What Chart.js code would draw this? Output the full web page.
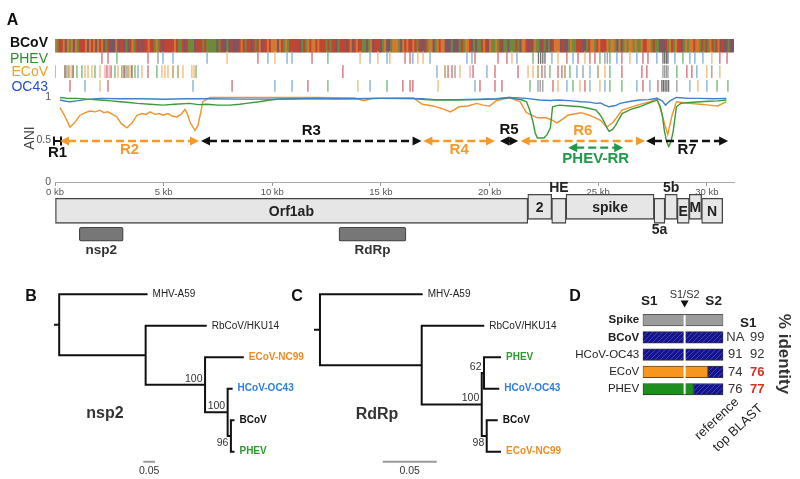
<!DOCTYPE html>
<html>
<head>
<meta charset="utf-8">
<script src="https://cdn.jsdelivr.net/npm/chart.js@4.4.1/dist/chart.umd.min.js"></script>
<style>
html,body{margin:0;padding:0;background:#fff;}
#wrap{position:relative;width:800px;height:479px;overflow:hidden;background:#fff;}
canvas{position:absolute;left:0;top:0;}
</style>
</head>
<body>
<div id="wrap">
<canvas id="cA" width="800" height="479"></canvas>
<canvas id="cB" width="800" height="479"></canvas>
<canvas id="cC" width="800" height="479"></canvas>
<canvas id="cD" width="800" height="479"></canvas>
</div>
<script>
// ===================== DATA =====================
// Panel A : genome axis (kb) and ANI axis
const genomeLengthKb = 31.25;
const kbTicks = [0, 5, 10, 15, 20, 25, 30];
const aniTicks = [0, 0.5, 1];

// ANI of each virus vs BCoV along the genome  [kb, ANI]
const aniOC43 = [[0.23,0.97],[0.5,0.955],[0.69,0.95],[1.0,0.96],[1.4,0.975],[2.07,0.99],[3.0,0.985],[4.0,0.985],[5.0,0.98],[6.0,0.985],[7.0,0.985],[8.5,0.98],[10,0.98],[11.5,0.985],[13,0.985],[15,0.99],[16.9,0.985],[17.5,0.975],[18.5,0.975],[19.5,0.98],[20.3,0.985],[20.9,1.0],[21.7,0.99],[22.3,0.97],[22.8,0.965],[23.2,0.97],[23.8,0.96],[24.2,0.95],[24.6,0.945],[24.9,0.93],[25.1,0.935],[25.3,0.91],[25.5,0.89],[25.8,0.905],[26.0,0.93],[26.5,0.955],[26.9,0.97],[27.3,0.975],[27.7,0.99],[27.95,0.96],[28.1,0.91],[28.3,0.96],[28.6,1.0],[29.2,0.99],[29.7,0.99],[30.3,0.985],[30.9,0.99]];
const aniPHEV = [[0.23,1.0],[0.6,0.99],[1.0,0.99],[1.5,0.98],[2.07,0.97],[2.6,0.96],[3.0,0.95],[3.4,0.94],[3.8,0.93],[4.37,0.92],[4.97,0.91],[5.5,0.92],[6.2,0.93],[6.6,0.915],[7.0,0.92],[7.5,0.91],[8.05,0.91],[8.5,0.92],[8.8,0.93],[9.4,0.95],[9.9,0.97],[10.3,0.98],[11,0.985],[12,0.99],[13,0.985],[14,0.985],[15,0.99],[16.5,0.99],[17.0,0.975],[17.5,0.97],[18.5,0.97],[19.5,0.975],[20.3,0.98],[20.9,1.0],[21.5,0.97],[21.7,0.95],[21.85,0.85],[22.0,0.71],[22.1,0.58],[22.2,0.52],[22.5,0.52],[22.65,0.56],[22.8,0.64],[22.9,0.89],[23.2,0.91],[23.7,0.9],[24.2,0.89],[24.6,0.87],[24.9,0.85],[25.1,0.79],[25.3,0.7],[25.4,0.64],[25.5,0.6],[25.65,0.62],[25.8,0.67],[26.1,0.81],[26.5,0.86],[26.9,0.89],[27.3,0.93],[27.7,0.97],[27.85,0.9],[27.95,0.79],[28.05,0.6],[28.15,0.48],[28.25,0.42],[28.35,0.48],[28.45,0.6],[28.6,0.89],[28.8,0.93],[29.2,0.94],[29.7,0.95],[30.1,0.955],[30.5,0.96],[30.9,0.97]];
const aniECoV = [[0.23,0.88],[0.45,0.78],[0.69,0.65],[0.9,0.7],[1.15,0.79],[1.4,0.82],[1.61,0.84],[1.85,0.83],[2.07,0.85],[2.25,0.82],[2.44,0.83],[2.65,0.8],[2.85,0.77],[3.05,0.69],[3.31,0.64],[3.55,0.7],[3.77,0.79],[4.0,0.81],[4.2,0.8],[4.37,0.83],[4.6,0.8],[4.8,0.81],[4.97,0.79],[5.2,0.81],[5.4,0.78],[5.61,0.77],[5.8,0.8],[5.98,0.86],[6.1,0.8],[6.21,0.71],[6.44,0.61],[6.58,0.67],[6.81,0.95],[7.13,1.0],[9,1.0],[12,1.0],[13.8,0.995],[14.2,0.96],[14.6,0.99],[16.5,0.995],[16.9,0.92],[17.4,0.9],[17.8,0.87],[18.2,0.83],[18.6,0.89],[19.0,0.9],[19.4,0.93],[19.7,0.91],[20.0,0.9],[20.3,0.96],[20.9,1.0],[21.4,0.95],[21.7,0.82],[22.2,0.76],[22.6,0.76],[22.9,0.73],[23.1,0.7],[23.4,0.75],[23.6,0.79],[24.2,0.82],[24.6,0.79],[25.1,0.73],[25.4,0.65],[25.7,0.71],[26.1,0.85],[26.8,0.91],[27.4,0.95],[27.7,0.99],[27.9,0.83],[28.2,0.56],[28.4,0.79],[28.6,0.95],[29.2,0.93],[29.7,0.92],[30.1,0.91],[30.5,0.9],[30.9,0.95]];

// BCoV reference sequence (drawn as coloured stripe)
const bcovSeq = 'GATTGCGAGCGATTTGCGTGCGTGCATCCCGCTTCACTGATCTCTTGTTAGATCTTTTTGTAATCTAAACTTTATAAAAACATCCACTCCCTGTATTCTATGCTTGTGGGCGTAGATTTTTCATAGTGGTGTTTATATTCATTTCTGCTGTTAACAGCTTTCAGCCAGGGACGTGTTGTATCCTAGGCAGTGGCCCACCCATAGGTCACAATGTCGAAGATCAACAAATACGGTCTCGAACTACACTGGGCTCCAGAATTTCCATGGATGTTTGAGGACGCAGAGGAGAAGTTGGATAACCCTAGTAGTTCAGAGGTGGATATAGTATGCTCCACC';

// variant sites vs BCoV  [kb, colour code]
const phevVariants = [[2.16,'r'],[2.44,'r'],[2.85,'g'],[4.28,'r'],[4.74,'k'],[4.97,'b'],[5.43,'b'],[7.0,'b'],[7.92,'o'],[9.34,'r'],[9.8,'b'],[10.12,'o'],[10.68,'b'],[10.91,'b'],[11.83,'r'],[12.56,'g'],[14.04,'o'],[14.5,'b'],[14.86,'o'],[15.28,'b'],[15.41,'o'],[16.11,'r'],[16.34,'r'],[16.47,'b'],[16.7,'o'],[16.94,'o'],[17.26,'b'],[18.96,'b'],[19.19,'b'],[19.33,'r'],[20.39,'r'],[20.8,'r'],[21.03,'o'],[21.26,'b'],[22.0,'g'],[22.25,'K'],[22.35,'K'],[22.45,'K'],[22.55,'K'],[22.87,'b'],[23.15,'o'],[23.56,'r'],[23.84,'b'],[24.07,'r'],[24.39,'o'],[24.62,'r'],[24.85,'r'],[25.08,'g'],[25.31,'k'],[25.42,'b'],[25.54,'g'],[25.86,'b'],[26.09,'r'],[26.46,'o'],[26.78,'b'],[27.06,'r'],[27.29,'r'],[27.7,'b'],[27.98,'K'],[28.06,'K'],[28.14,'K'],[28.21,'K'],[28.53,'b'],[28.9,'g'],[29.22,'b'],[29.45,'b'],[29.82,'b'],[30.23,'o'],[30.6,'r'],[30.93,'r']];
const ecovVariants = [[0.0,'g'],[0.46,'n'],[0.55,'k'],[0.64,'y'],[0.74,'o'],[0.83,'n'],[1.01,'g'],[1.24,'g'],[1.38,'o'],[1.52,'o'],[1.7,'o'],[1.84,'g'],[2.07,'o'],[2.3,'p'],[2.39,'r'],[2.49,'p'],[2.58,'r'],[2.76,'g'],[2.9,'o'],[3.08,'y'],[3.18,'n'],[3.27,'k'],[3.36,'y'],[3.45,'o'],[3.54,'n'],[3.68,'g'],[3.82,'b'],[4.0,'o'],[4.28,'r'],[4.69,'g'],[4.92,'o'],[5.06,'o'],[5.2,'o'],[5.43,'y'],[5.66,'y'],[5.89,'o'],[6.3,'o'],[6.4,'o'],[6.49,'g'],[13.25,'r'],[17.58,'b'],[17.95,'y'],[18.09,'r'],[18.27,'r'],[18.41,'k'],[18.64,'o'],[19.1,'p'],[19.24,'r'],[19.88,'b'],[20.25,'r'],[21.31,'r'],[21.77,'o'],[22.0,'o'],[22.23,'y'],[22.41,'r'],[22.55,'k'],[22.78,'g'],[23.15,'r'],[23.33,'r'],[23.47,'y'],[23.7,'g'],[24.02,'b'],[24.3,'k'],[24.62,'b'],[24.99,'y'],[25.31,'o'],[25.54,'g'],[26.09,'r'],[27.01,'r'],[27.24,'r'],[27.98,'k'],[28.06,'k'],[28.14,'k'],[28.21,'k'],[28.62,'g'],[29.08,'r'],[29.31,'r'],[29.54,'b'],[30.0,'o'],[30.23,'k'],[30.6,'o']];
const oc43Variants = [[0.69,'r'],[1.38,'b'],[2.07,'o'],[2.44,'r'],[6.35,'b'],[8.15,'r'],[10.12,'b'],[10.91,'b'],[11.64,'r'],[12.56,'g'],[13.94,'o'],[14.5,'b'],[15.28,'g'],[16.01,'r'],[16.34,'r'],[16.47,'r'],[17.63,'o'],[19.33,'b'],[19.56,'r'],[20.25,'r'],[20.57,'r'],[21.86,'g'],[22.23,'k'],[22.33,'k'],[22.45,'k'],[22.92,'r'],[23.15,'o'],[23.56,'b'],[23.84,'g'],[24.16,'o'],[24.39,'r'],[24.62,'b'],[25.08,'o'],[25.31,'b'],[25.54,'g'],[26.09,'g'],[26.78,'b'],[27.06,'r'],[27.38,'b'],[27.75,'r'],[27.93,'K'],[28.0,'K'],[28.08,'K'],[28.16,'K'],[28.24,'K'],[28.62,'k'],[29.22,'b'],[29.59,'o'],[30.0,'b'],[30.47,'g'],[30.97,'g']];

// recombination regions (kb)
const regionNames  = ['R1','R2','R3','R4','R5','R6','R7','PHEV-RR'];
const regionStart  = [0, 0.23, 6.72, 16.95, 20.48, 21.43, 27.2, 23.62];
const regionEnd    = [0.23, 6.63, 16.87, 20.25, 21.32, 27.15, 30.98, 26.15];
const regionSource = ['other','ECoV','other','ECoV','other','ECoV','other','PHEV'];

// genome map (kb)
const geneNames = ['Orf1ab','2','HE','spike','5a','5b','E','M','N'];
const geneStart = [0, 21.76, 22.86, 23.52, 27.57, 28.07, 28.64, 29.19, 29.76];
const geneEnd   = [21.76, 22.86, 23.52, 27.57, 28.07, 28.64, 29.19, 29.76, 30.73];
const domainNames = ['nsp2','RdRp'];
const domainStart = [1.12, 13.07];
const domainEnd   = [3.14, 16.15];

// Panel B : nsp2 tree (parent index, branch length, tip label, bootstrap)
const nsp2Parent  = [-1,0,0,2,2,4,4,6,6,8,8];
const nsp2Length  = [0.018,0.375,0.371,0.258,0.255,0.162,0.097,0.017,0.014,0.011,0.011];
const nsp2Taxa    = ['','MHV-A59','','RbCoV/HKU14','','ECoV-NC99','','HCoV-OC43','','BCoV','PHEV'];
const nsp2Support = [null,null,null,null,100,null,100,null,96,null,null];
// Panel C : RdRp tree
const rdrpParent  = [-1,0,0,2,2,4,5,5,4,8,8];
const rdrpLength  = [0.0046,0.0942,0.0942,0.057,0.0556,0.0021,0.0148,0.0132,0.0046,0.0093,0.0123];
const rdrpTaxa    = ['','MHV-A59','','RbCoV/HKU14','','','PHEV','HCoV-OC43','','BCoV','ECoV-NC99'];
const rdrpSupport = [null,null,null,null,100,62,null,null,98,null,null];
const scaleBarLength = 0.05;

// Panel D : spike identity
const spikeRows   = ['Spike','BCoV','HCoV-OC43','ECoV','PHEV'];
const ownLineagePct = [0, 0, 0, 81, 63];     // % of spike (from N-term) with own-lineage sequence
const s1s2Pct     = 52;                     // S1/S2 cleavage position, % of spike
const refIdentity = ['', 'NA', '91', '74', '76'];
const topBlastId  = ['', '99', '92', '76', '77'];
const topBlastHit = [false, false, false, true, true];

// ===================== STYLE / LAYOUT =====================
const FONT = '"Liberation Sans", Arial, Helvetica, sans-serif';
Chart.defaults.font.family = FONT;
const NUC = {A:'#6f8a3a', C:'#7d5663', G:'#d47a30', T:'#c04535'};
const VCOL = {r:'#d6686f', b:'#7eaed3', g:'#6fb66f', o:'#f2b674', k:'#9a9a9a', K:'#6e6e6e', y:'#a8974e', p:'#eaa9af', n:'#8a5c3c'};
const ORANGE = '#f39a27', GREEN = '#1f9a48', BLACK = '#111';
const SOURCE_COLOR = {other: BLACK, ECoV: ORANGE, PHEV: GREEN};
const Y_MAX_A = 1.692;
const ROW_Y = {BCoV:[1.538,1.692], PHEV:1.473, ECoV:1.306, OC43:1.138};
const ROW_LABELS = [
  {name:'BCoV', y:1.641, color:'#111', weight:'bold'},
  {name:'PHEV', y:1.459, color:'#2f8f2f', weight:'normal'},
  {name:'ECoV', y:1.305, color:'#f0a02c', weight:'normal'},
  {name:'OC43', y:1.128, color:'#2552cc', weight:'normal'}
];
const REGION_LANE_Y = {main:0.485, lower:0.406};
const REGION_LABEL_DY = [11.5, 9, -10, 9, -11, -10.5, 9, 11.5];
const GENE_LANE_Y = [-0.2935, -0.341];     // upper / lower lane centres
const GENE_LABEL_POS = ['in','in','above','in','below','above','in','in','in'];
const DOMAIN_Y = -0.618;

function txt(ctx, s, x, y, o) {
  o = o || {};
  ctx.save();
  ctx.font = (o.weight || 'normal') + ' ' + (o.size || 12) + 'px ' + FONT;
  ctx.fillStyle = o.color || '#222';
  ctx.textAlign = o.align || 'center';
  ctx.textBaseline = 'middle';
  if (o.rotate) { ctx.translate(x, y); ctx.rotate(o.rotate * Math.PI / 180); ctx.fillText(s, 0, 0); }
  else ctx.fillText(s, x, y);
  ctx.restore();
}

function drawRegionArrow(ctx, x1, x2, y, color) {
  const head = 9, hw = 4.6;
  ctx.save();
  ctx.strokeStyle = color; ctx.fillStyle = color; ctx.lineWidth = 2.3;
  if (x2 - x1 < 8) {
    ctx.lineWidth = 2;
    ctx.beginPath();
    ctx.moveTo(x1 - 1, y - 4.5); ctx.lineTo(x1 - 1, y + 4.5);
    ctx.moveTo(x2 + 1, y - 4.5); ctx.lineTo(x2 + 1, y + 4.5);
    ctx.moveTo(x1 - 1, y); ctx.lineTo(x2 + 1, y);
    ctx.stroke(); ctx.restore(); return;
  }
  if (x2 - x1 > 2 * head) {
    ctx.setLineDash([8, 4]);
    ctx.beginPath(); ctx.moveTo(x1 + head - 1, y); ctx.lineTo(x2 - head + 1, y); ctx.stroke();
    ctx.setLineDash([]);
  }
  ctx.beginPath(); ctx.moveTo(x1, y); ctx.lineTo(x1 + head, y - hw); ctx.lineTo(x1 + head, y + hw); ctx.closePath(); ctx.fill();
  ctx.beginPath(); ctx.moveTo(x2, y); ctx.lineTo(x2 - head, y - hw); ctx.lineTo(x2 - head, y + hw); ctx.closePath(); ctx.fill();
  ctx.restore();
}

const baseOpts = {responsive:false, animation:false, events:[], devicePixelRatio:1,
  plugins:{legend:{display:false}, tooltip:{enabled:false}}};

// ===================== PANEL A =====================
const seqLetters = bcovSeq.split('');
const panelAText = {
  id:'panelAText',
  afterDraw(chart) {
    const ctx = chart.ctx, x = chart.scales.x, y = chart.scales.y;
    txt(ctx, 'A', 12.5, 21, {size:16, weight:'bold', color:'#111'});
    ROW_LABELS.forEach(r => txt(ctx, r.name, 48, y.getPixelForValue(r.y), {size:14, weight:r.weight, color:r.color, align:'right'}));
    txt(ctx, 'ANI', 30, 138, {size:14, color:'#444', rotate:-90});
    regionNames.forEach((n, i) => {
      const x1 = x.getPixelForValue(regionStart[i]), x2 = x.getPixelForValue(regionEnd[i]);
      const yy = y.getPixelForValue(regionSource[i] === 'PHEV' ? REGION_LANE_Y.lower : REGION_LANE_Y.main);
      const col = SOURCE_COLOR[regionSource[i]];
      drawRegionArrow(ctx, x1, x2, yy, col);
      txt(ctx, n, (x1 + x2) / 2, yy + REGION_LABEL_DY[i], {size:15, weight:'bold', color:col});
    });
    geneNames.forEach((g, i) => {
      const cx = (x.getPixelForValue(geneStart[i]) + x.getPixelForValue(geneEnd[i])) / 2;
      const pos = GENE_LABEL_POS[i];
      let ty;
      if (pos === 'in') ty = y.getPixelForValue(GENE_LANE_Y[i % 2 === 0 ? 1 : 0]) + 1;
      else if (pos === 'above') ty = y.getPixelForValue(GENE_LANE_Y[0]) - 12.5 - 6;
      else ty = y.getPixelForValue(GENE_LANE_Y[1]) + 12.5 + 7;
      txt(ctx, g, cx, ty, {size:14, weight:'bold', color:'#222'});
    });
    domainNames.forEach((d, i) => {
      const cx = (x.getPixelForValue(domainStart[i]) + x.getPixelForValue(domainEnd[i])) / 2;
      txt(ctx, d, cx, y.getPixelForValue(DOMAIN_Y) + 16, {size:13.5, weight:'bold', color:'#333'});
    });
  }
};

function variantSet(list, rowY, r) {
  return {type:'scatter', xAxisID:'x', yAxisID:'y',
    data: list.map(v => ({x:v[0], y:rowY})),
    pointStyle:'line', pointRotation:90, pointRadius:r, pointHoverRadius:r,
    pointBorderWidth:1.3, pointBorderColor: list.map(v => VCOL[v[1]]),
    pointBackgroundColor: list.map(v => VCOL[v[1]])};
}
function aniSet(arr, color) {
  return {type:'line', xAxisID:'x', yAxisID:'y', data: arr.map(p => ({x:p[0], y:p[1]})),
    borderColor:color, borderWidth:1.4, pointRadius:0, tension:0, fill:false};
}
const linY = {type:'linear', position:'left', min:0, max:Y_MAX_A, offset:false, grid:{offset:false}};

new Chart(document.getElementById('cA'), {
  type:'line',
  data:{datasets:[
    aniSet(aniOC43, '#3f80c8'),
    aniSet(aniPHEV, '#3a9b3a'),
    aniSet(aniECoV, '#f1922b'),
    variantSet(phevVariants, ROW_Y.PHEV, 6.3),
    variantSet(ecovVariants, ROW_Y.ECoV, 6.3),
    variantSet(oc43Variants, ROW_Y.OC43, 5.9),
    {type:'bar', xAxisID:'xs', yAxisID:'ys', grouped:false, data: seqLetters.map(() => ROW_Y.BCoV.slice()),
      backgroundColor: seqLetters.map(c => NUC[c]), borderWidth:0, categoryPercentage:1, barPercentage:1},
    {type:'bar', indexAxis:'y', xAxisID:'x', yAxisID:'ys', grouped:false,
      data:[{x:[0, 31.2], y:(ROW_Y.BCoV[0] + ROW_Y.BCoV[1]) / 2}],
      barThickness:13, backgroundColor:'#7c6040', borderWidth:0},
    {type:'bar', indexAxis:'y', xAxisID:'x', yAxisID:'y', grouped:false,
      data: geneNames.map((g, i) => ({x:[geneStart[i], geneEnd[i]], y: GENE_LANE_Y[i % 2 === 0 ? 1 : 0]})),
      barThickness:25, backgroundColor:'#e6e6e6', borderColor:'#444', borderWidth:1.3, borderSkipped:false, clip:false},
    {type:'bar', indexAxis:'y', xAxisID:'x', yAxisID:'yd', grouped:false,
      data: domainNames.map((d, i) => ({x:[domainStart[i], domainEnd[i]], y: DOMAIN_Y})),
      barThickness:14, backgroundColor:'#777', borderColor:'#444', borderWidth:1.2, borderRadius:2, borderSkipped:false, clip:false}
  ]},
  options: Object.assign({}, baseOpts, {
    layout:{padding:{left:0, right:66, top:39, bottom:277}},
    scales:{
      x:{type:'linear', min:0, max:genomeLengthKb, offset:false,
        afterFit: s => { s.height = 20; },
        afterBuildTicks: s => { s.ticks = kbTicks.map(v => ({value:v})); },
        ticks:{callback: v => v + ' kb', font:{size:9.5}, color:'#555', padding:1, maxRotation:0, autoSkip:false},
        grid:{display:true, drawOnChartArea:false, drawTicks:true, tickLength:4, color:'#999', offset:false},
        border:{display:true, color:'#aaa', width:1}},
      xs:{type:'category', labels: seqLetters.map((c, i) => i + c), display:false, offset:true},
      y:Object.assign({}, linY, {
        afterFit: s => { s.width = 55; },
        afterBuildTicks: s => { s.ticks = aniTicks.map(v => ({value:v})); },
        ticks:{callback: v => String(v), font:{size:10.5}, color:'#555', padding:4},
        grid:{display:false, drawTicks:false, offset:false}, border:{display:false}}),
      ys:Object.assign({}, linY, {display:false}),
      yd:Object.assign({}, linY, {display:false})
    }
  }),
  plugins:[panelAText]
});

// ===================== PANELS B & C (trees) =====================
const TAXON_STYLE = {
  'MHV-A59':{color:'#222', weight:'normal'},
  'RbCoV/HKU14':{color:'#222', weight:'normal'},
  'ECoV-NC99':{color:'#f28a1f', weight:'bold'},
  'HCoV-OC43':{color:'#2c7fe0', weight:'bold'},
  'BCoV':{color:'#111', weight:'bold'},
  'PHEV':{color:'#2c9a2c', weight:'bold'}
};

function layoutTree(parent, blen) {
  const n = parent.length, kids = parent.map(() => []);
  parent.forEach((p, i) => { if (p >= 0) kids[p].push(i); });
  const x = [], y = [];
  for (let i = 0; i < n; i++) x[i] = (parent[i] >= 0 ? x[parent[i]] : 0) + blen[i];
  let leaf = 0;
  (function setY(i) {
    if (!kids[i].length) { y[i] = leaf++; return; }
    kids[i].forEach(setY);
    const ys = kids[i].map(c => y[c]);
    y[i] = (Math.min(...ys) + Math.max(...ys)) / 2;
  })(0);
  const pts = [{x:0, y:y[0]}, {x:x[0], y:y[0]}, {x:null, y:null}];
  for (let i = 1; i < n; i++) {
    const p = parent[i];
    pts.push({x:x[p], y:y[p]}, {x:x[p], y:y[i]}, {x:x[i], y:y[i]}, {x:null, y:null});
  }
  return {x, y, pts};
}

function treeChart(id, parent, blen, taxa, support, g) {
  const t = layoutTree(parent, blen);
  const plugin = {
    id:'tree' + g.letter,
    afterDraw(chart) {
      const ctx = chart.ctx, sx = chart.scales.x, sy = chart.scales.y;
      txt(ctx, g.letter, g.letterX, 297, {size:16, weight:'bold', color:'#111'});
      taxa.forEach((name, i) => {
        if (!name) return;
        const st = TAXON_STYLE[name];
        txt(ctx, name, sx.getPixelForValue(t.x[i]) + 6, sy.getPixelForValue(t.y[i]), {size:10, weight:st.weight, color:st.color, align:'left'});
      });
      support.forEach((s, i) => {
        if (s == null) return;
        const below = g.supportBelow.indexOf(i) >= 0;
        txt(ctx, String(s), sx.getPixelForValue(t.x[i]) - 2.5, sy.getPixelForValue(t.y[i]) + (below ? 7 : -6), {size:10.5, color:'#333', align:'right'});
      });
      txt(ctx, g.title, g.titleX, g.titleY, {size:16, weight:'bold', color:'#333'});
      txt(ctx, String(scaleBarLength), sx.getPixelForValue(g.barX + scaleBarLength / 2), sy.getPixelForValue(5.63), {size:10.5, color:'#333'});
    }
  };
  return new Chart(document.getElementById(id), {
    type:'scatter',
    data:{datasets:[
      {data:t.pts, showLine:true, borderColor:'#111', borderWidth:2, pointRadius:0, borderCapStyle:'square', borderJoinStyle:'miter', spanGaps:false, clip:false},
      {data:[{x:g.barX, y:5.32}, {x:g.barX + scaleBarLength, y:5.32}], showLine:true, borderColor:'#9a9a9a', borderWidth:2, pointRadius:0, clip:false}
    ]},
    options: Object.assign({}, baseOpts, {
      layout:{padding:g.pad},
      scales:{x:{type:'linear', display:false, min:0, max:g.xmax}, y:{type:'linear', display:false, min:0, max:5, reverse:true}}
    }),
    plugins:[plugin]
  });
}

treeChart('cB', nsp2Parent, nsp2Length, nsp2Taxa, nsp2Support,
  {letter:'B', letterX:31, title:'nsp2', titleX:105, titleY:413.5, barX:0.379, supportBelow:[8],
   pad:{left:55, right:455, top:294.3, bottom:27.3}, xmax:290/233});
treeChart('cC', rdrpParent, rdrpLength, rdrpTaxa, rdrpSupport,
  {letter:'C', letterX:297, title:'RdRp', titleX:377, titleY:415, barX:0.0627, supportBelow:[8],
   pad:{left:315, right:255, top:294.3, bottom:27.3}, xmax:230/1080});

// ===================== PANEL D =====================
function hatchPattern() {
  const c = document.createElement('canvas'); c.width = 5; c.height = 5;
  const g = c.getContext('2d');
  g.fillStyle = '#14148c'; g.fillRect(0, 0, 5, 5);
  g.strokeStyle = '#4040c0'; g.lineWidth = 1;
  g.beginPath(); g.moveTo(0, 5); g.lineTo(5, 0); g.moveTo(-1, 1); g.lineTo(1, -1); g.moveTo(4, 6); g.lineTo(6, 4); g.stroke();
  return g.createPattern(c, 'repeat');
}
const OWN_COLOR = {ECoV:'#f7961f', PHEV:'#1c8f1c'};
const panelDText = {
  id:'panelDText',
  afterDraw(chart) {
    const ctx = chart.ctx, x = chart.scales.x, y = chart.scales.y, ca = chart.chartArea;
    txt(ctx, 'D', 575, 297, {size:16, weight:'bold', color:'#111'});
    const xs = x.getPixelForValue(s1s2Pct);
    ctx.save(); ctx.strokeStyle = '#fff'; ctx.lineWidth = 2;
    ctx.beginPath(); ctx.moveTo(xs, y.getPixelForValue(0) - 5); ctx.lineTo(xs, y.getPixelForValue(spikeRows.length - 1) + 5); ctx.stroke();
    ctx.fillStyle = '#111'; ctx.beginPath(); ctx.moveTo(xs - 4, 300.5); ctx.lineTo(xs + 4, 300.5); ctx.lineTo(xs, 307.5); ctx.closePath(); ctx.fill();
    ctx.restore();
    txt(ctx, 'S1', x.getPixelForValue(8), 301.7, {size:13.5, weight:'bold', color:'#222'});
    txt(ctx, 'S2', x.getPixelForValue(88), 301.7, {size:13.5, weight:'bold', color:'#222'});
    txt(ctx, 'S1/S2', xs, 294.5, {size:11, color:'#333'});
    txt(ctx, 'S1', ca.right + 25, 323, {size:13.5, weight:'bold', color:'#222'});
    spikeRows.forEach((r, i) => {
      const yy = y.getPixelForValue(i);
      if (refIdentity[i]) txt(ctx, refIdentity[i], ca.right + 12, yy, {size:13, color:'#333'});
      if (topBlastId[i]) txt(ctx, topBlastId[i], ca.right + 34, yy, topBlastHit[i] ? {size:13, weight:'bold', color:'#d8321f'} : {size:13, color:'#333'});
    });
    txt(ctx, 'reference', 717, 419, {size:13, color:'#222', rotate:-43});
    txt(ctx, 'top BLAST', 738, 428, {size:13, color:'#222', rotate:-43});
    txt(ctx, '% identity', 784, 354, {size:17, weight:'bold', color:'#333', rotate:90});
  }
};
const navy = hatchPattern();
const dCommon = {borderColor:'#333', borderWidth:1, borderSkipped:false, barThickness:11.5};
new Chart(document.getElementById('cD'), {
  type:'bar',
  data:{labels: spikeRows, datasets:[
    Object.assign({data: spikeRows.map((r, i) => i === 0 ? [0, 100] : null), backgroundColor:'#9c9c9c'}, dCommon, {borderColor:'#555'}),
    Object.assign({data: spikeRows.map((r, i) => i === 0 ? null : [ownLineagePct[i], 100]), backgroundColor:navy}, dCommon),
    Object.assign({data: spikeRows.map((r, i) => r === 'ECoV' ? [0, ownLineagePct[i]] : null), backgroundColor:OWN_COLOR.ECoV}, dCommon, {borderColor:'#6b4a1a'}),
    Object.assign({data: spikeRows.map((r, i) => r === 'PHEV' ? [0, ownLineagePct[i]] : null), backgroundColor:OWN_COLOR.PHEV}, dCommon)
  ]},
  options: Object.assign({}, baseOpts, {
    indexAxis:'y',
    layout:{padding:{left:522.7, right:76.7, top:311.4, bottom:81.1}},
    scales:{
      x:{display:false, min:0, max:100},
      y:{stacked:true, afterFit: s => { s.width = 120; },
        grid:{display:false, drawTicks:false}, border:{display:false},
        ticks:{padding:3.5, color:'#222', font: c => ({size:11.5, weight: c.index < 2 ? 'bold' : 'normal'})}}
    }
  }),
  plugins:[panelDText]
});
</script>
</body>
</html>
